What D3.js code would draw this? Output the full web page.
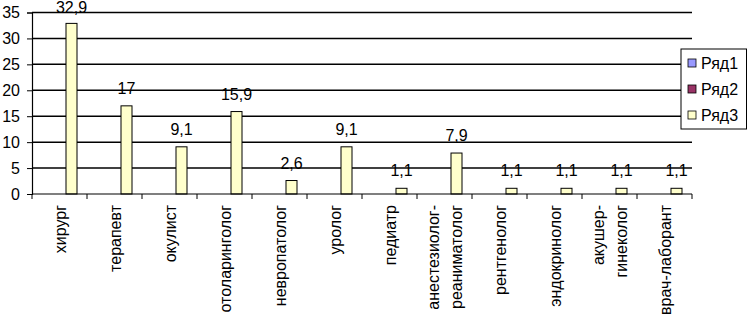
<!DOCTYPE html>
<html><head><meta charset="utf-8">
<script src="https://cdn.jsdelivr.net/npm/d3@7"></script>
<style>body{margin:0;background:#fff}svg{display:block}text{font-family:"Liberation Sans",Arial,sans-serif}</style>
</head><body>
<svg id="c" width="747" height="315"></svg>
<script>
const categories = [["хирург"],["терапевт"],["окулист"],["отоларинголог"],["невропатолог"],["уролог"],["педиатр"],["анестезиолог-","реаниматолог"],["рентгенолог"],["эндокринолог"],["акушер-","гинеколог"],["врач-лаборант"]];
const seriesNames = ["Ряд1","Ряд2","Ряд3"];
const seriesColors = ["#9999FF","#993366","#FFFFCC"];
const ryad1 = [null,null,null,null,null,null,null,null,null,null,null,null];
const ryad2 = [null,null,null,null,null,null,null,null,null,null,null,null];
const ryad3 = [32.9,17,9.1,15.9,2.6,9.1,1.1,7.9,1.1,1.1,1.1,1.1];
const yTicks = [0,5,10,15,20,25,30,35];

const FS = 16;
const svg = d3.select("#c");
const L=32,R=692,T=12.5,B=194;
const keys = categories.map((c,i)=>i);
const x = d3.scaleBand().domain(keys).range([L,R]).padding(0);
const xi = d3.scaleBand().domain(seriesNames).range([1,x.bandwidth()+1]).paddingInner(0).paddingOuter(1);
const y = d3.scaleLinear().domain([0,35]).range([B,T]);
const fmt = v => String(v).replace(".",",");

// gridlines
svg.append("g").selectAll("line").data(yTicks.filter(d=>d>0)).join("line")
  .attr("x1",L).attr("x2",R).attr("y1",d=>y(d)).attr("y2",d=>y(d))
  .attr("stroke","#000").attr("stroke-width",1.5);

// y axis
const ya = svg.append("g").attr("transform",`translate(${L},0)`)
  .call(d3.axisLeft(y).tickValues(yTicks).tickSize(5).tickPadding(7).tickFormat(d=>d));
ya.select(".domain").attr("stroke","#000").attr("stroke-width",1.2);
ya.selectAll("text").attr("font-size",FS).attr("fill","#000").style("font-family","Liberation Sans, Arial");
ya.selectAll("line").attr("stroke","#000");

// bars
const all=[ryad1,ryad2,ryad3];
all.forEach((vals,s)=>{
  svg.append("g").selectAll("rect").data(vals.map((v,i)=>({v,i})).filter(d=>d.v!=null)).join("rect")
    .attr("x",d=>x(d.i)+xi(seriesNames[s])).attr("width",xi.bandwidth())
    .attr("y",d=>y(d.v)).attr("height",d=>B-y(d.v))
    .attr("fill",seriesColors[s]).attr("stroke","#000").attr("stroke-width",1);
  svg.append("g").selectAll("text").data(vals.map((v,i)=>({v,i})).filter(d=>d.v!=null)).join("text")
    .attr("x",d=>x(d.i)+xi(seriesNames[s])+xi.bandwidth()/2).attr("y",d=>Math.max(12.5,y(d.v)-12))
    .attr("text-anchor","middle").attr("font-size",FS).attr("fill","#000").text(d=>fmt(d.v));
});

// x axis
const xa = svg.append("g").attr("transform",`translate(0,${B})`);
xa.append("line").attr("x1",L).attr("x2",R).attr("stroke","#000").attr("stroke-width",1.2);
xa.selectAll("line.t").data(d3.range(categories.length+1)).join("line").attr("class","t")
  .attr("x1",i=>L+i*x.step()).attr("x2",i=>L+i*x.step()).attr("y1",0).attr("y2",5).attr("stroke","#000");
categories.forEach((lines,i)=>{
  const cx = x(i)+x.bandwidth()/2;
  const n=lines.length;
  lines.forEach((t,j)=>{
    const off=(j-(n-1)/2)*23;
    xa.append("text").attr("transform",`translate(${cx+off+6},11) rotate(-90)`)
      .attr("text-anchor","end").attr("font-size",FS).attr("fill","#000").text(t);
  });
});

// legend
const lg = svg.append("g");
lg.append("rect").attr("x",681).attr("y",49).attr("width",65.5).attr("height",80)
  .attr("fill","#fff").attr("stroke","#000").attr("stroke-width",1);
seriesNames.forEach((s,i)=>{
  const cy=63+i*26;
  lg.append("rect").attr("x",688).attr("y",cy-4).attr("width",8).attr("height",8)
    .attr("fill",seriesColors[i]).attr("stroke","#000").attr("stroke-width",0.8);
  lg.append("text").attr("x",701).attr("y",cy+6).attr("font-size",FS).attr("fill","#000").text(s);
});
</script>
</body></html>
